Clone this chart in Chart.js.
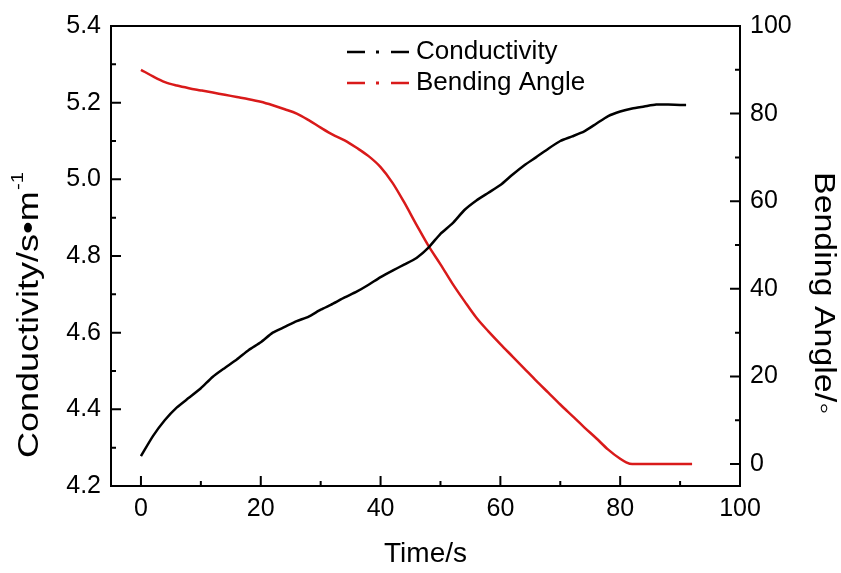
<!DOCTYPE html>
<html lang="en">
<head>
<meta charset="UTF-8" />
<title>Conductivity / Bending Angle</title>
<script src="https://cdn.jsdelivr.net/npm/chart.js"></script>
<style>
    html, body { margin: 0; padding: 0; background: #fff; }
    .grafico-container { position: relative; width: 841px; height: 573px; }
</style>
</head>
<body>
<div class="grafico-container">
    <canvas id="lineDash"></canvas>
</div>

<script>
// dados
const tempoCond = [0, 2, 4, 6, 8, 10, 12, 14, 16, 18, 20, 22, 24, 26, 28, 30, 32, 34, 36, 38, 40, 42, 44, 46,
    48, 50, 52, 54, 56, 58, 60, 62, 64, 66, 68, 70, 72, 74, 76, 78, 80, 82, 84, 86, 88, 90, 91];
const condutividade = [4.278, 4.33, 4.372, 4.405, 4.43, 4.455, 4.485, 4.508, 4.53, 4.555, 4.575, 4.6, 4.615,
    4.63, 4.642, 4.66, 4.675, 4.692, 4.707, 4.725, 4.745, 4.762, 4.778, 4.795, 4.822, 4.858, 4.885, 4.92,
    4.945, 4.965, 4.985, 5.012, 5.037, 5.058, 5.08, 5.1, 5.112, 5.125, 5.145, 5.165, 5.177, 5.185, 5.19,
    5.195, 5.195, 5.194, 5.194];

const tempoAng = [0, 2, 4, 6, 8, 10, 12, 14, 16, 18, 20, 22, 24, 26, 28, 30, 32, 34, 36, 38, 40, 42, 44, 46,
    48, 50, 52, 54, 56, 58, 60, 62, 64, 66, 68, 70, 72, 74, 76, 78, 80, 81, 82, 84, 86, 88, 90, 92];
const angulo = [90, 88.5, 87.2, 86.4, 85.8, 85.3, 84.8, 84.3, 83.8, 83.3, 82.7, 81.9, 81.0, 80.0, 78.5,
    76.8, 75.2, 73.9, 72.2, 70.3, 67.8, 64.2, 59.6, 54.6, 49.8, 45.6, 41.2, 37.2, 33.4, 30.3, 27.4, 24.6,
    21.8, 19.0, 16.3, 13.6, 11.0, 8.4, 5.9, 3.3, 1.2, 0.4, 0, 0, 0, 0, 0, 0];

const legendas = ['Conductivity', 'Bending Angle'];
const cores = ['#000000', '#d91a1a'];
const ticksX = [0, 20, 40, 60, 80, 100];

const fonte = '"Liberation Sans", Arial, sans-serif';

// texto girado e esticado no sentido da leitura (a figura original e mais larga)
function textoVertical(ctx, x, y, ang, esticar, partes) {
    ctx.save();
    ctx.translate(x, y);
    ctx.rotate(ang);
    ctx.scale(esticar, 1);
    ctx.textBaseline = 'middle';
    ctx.textAlign = 'left';
    let pos = 0;
    partes.forEach(p => {
        ctx.font = p.tam + 'px ' + fonte;
        ctx.fillText(p.txt, pos, p.dy || 0);
        pos += ctx.measureText(p.txt).width + 1;
    });
    ctx.restore();
}

// moldura, ticks para dentro, legenda e titulos verticais
const extras = {
    id: 'extras',
    afterDraw(chart) {
        const ctx = chart.ctx;
        const a = chart.chartArea;
        const sx = chart.scales.x, sy = chart.scales.y, sy2 = chart.scales.y2;
        ctx.save();
        ctx.strokeStyle = '#000';
        ctx.lineWidth = 2;
        ctx.strokeRect(a.left, a.top, a.right - a.left, a.bottom - a.top);

        ctx.beginPath();
        for (let v = 0; v <= 100; v += 10) {
            const px = sx.getPixelForValue(v);
            const len = v % 20 === 0 ? 10 : 5;
            ctx.moveTo(px, a.bottom);
            ctx.lineTo(px, a.bottom - len);
        }
        for (let i = 0; i <= 12; i++) {
            const py = sy.getPixelForValue(4.2 + i * 0.1);
            const len = i % 2 === 0 ? 10 : 5;
            ctx.moveTo(a.left, py);
            ctx.lineTo(a.left + len, py);
        }
        for (let v = 0; v <= 100; v += 10) {
            const py = sy2.getPixelForValue(v);
            const len = v % 20 === 0 ? 10 : 5;
            ctx.moveTo(a.right, py);
            ctx.lineTo(a.right - len, py);
        }
        ctx.stroke();

        // legenda
        ctx.font = '26px ' + fonte;
        ctx.textBaseline = 'middle';
        ctx.textAlign = 'left';
        legendas.forEach((txt, i) => {
            const y = 52 + i * 31;
            ctx.strokeStyle = cores[i];
            ctx.fillStyle = cores[i];
            ctx.lineWidth = 2.5;
            ctx.beginPath();
            ctx.moveTo(347, y); ctx.lineTo(365, y);
            ctx.moveTo(391, y); ctx.lineTo(409, y);
            ctx.stroke();
            ctx.fillRect(376, y - 1.5, 3, 3);
            ctx.fillStyle = '#000';
            ctx.fillText(txt, 416, y);
        });

        ctx.fillStyle = '#000';
        textoVertical(ctx, 30, 458, -Math.PI / 2, 1.2, [
            { txt: 'Conductivity/s\u2022m', tam: 30 },
            { txt: '-1', tam: 17, dy: -12 }
        ]);
        textoVertical(ctx, 823, 172, Math.PI / 2, 1.17, [
            { txt: 'Bending Angle/\u25e6', tam: 29 }
        ]);

        ctx.restore();
    }
};

const ctxLine = document.getElementById('lineDash').getContext('2d');
new Chart(ctxLine, {
    type: 'line',
    data: {
        datasets: [{
            label: legendas[0],
            data: tempoCond.map((t, i) => ({ x: t, y: condutividade[i] })),
            borderColor: cores[0],
            borderWidth: 2.5,
            pointRadius: 0,
            tension: 0.2,
            yAxisID: 'y'
        }, {
            label: legendas[1],
            data: tempoAng.map((t, i) => ({ x: t, y: angulo[i] })),
            borderColor: cores[1],
            borderWidth: 2.5,
            pointRadius: 0,
            cubicInterpolationMode: 'monotone',
            yAxisID: 'y2'
        }]
    },
    options: {
        responsive: true,
        maintainAspectRatio: false,
        animation: false,
        layout: { padding: { top: 26, left: 0, right: 0, bottom: 0 } },
        plugins: {
            legend: { display: false },
            tooltip: { enabled: false }
        },
        scales: {
            x: {
                type: 'linear',
                min: -5,
                max: 100,
                grid: { display: false, drawTicks: false },
                border: { display: false },
                afterBuildTicks: s => { s.ticks = ticksX.map(v => ({ value: v })); },
                afterFit: s => { s.height = 87; },
                ticks: {
                    color: '#000',
                    padding: 8,
                    maxRotation: 0,
                    font: { family: fonte, size: 25 }
                },
                title: {
                    display: true,
                    text: 'Time/s',
                    color: '#000',
                    font: { family: fonte, size: 28 },
                    padding: { top: 0, bottom: 2 }
                }
            },
            y: {
                position: 'left',
                min: 4.2,
                max: 5.4,
                grid: { display: false, drawTicks: false },
                border: { display: false },
                afterFit: s => { s.width = 111; },
                ticks: {
                    stepSize: 0.2,
                    color: '#000',
                    padding: 10,
                    font: { family: fonte, size: 25 },
                    callback: v => Number(v).toFixed(1)
                }
            },
            y2: {
                position: 'right',
                min: -5,
                max: 100,
                grid: { display: false, drawTicks: false },
                border: { display: false },
                afterFit: s => { s.width = 101; },
                ticks: {
                    stepSize: 20,
                    includeBounds: false,
                    color: '#000',
                    padding: 10,
                    font: { family: fonte, size: 25 }
                }
            }
        }
    },
    plugins: [extras]
});
</script>
</body>
</html>
